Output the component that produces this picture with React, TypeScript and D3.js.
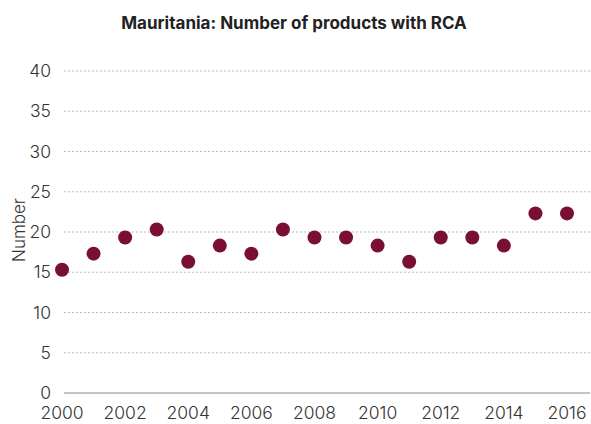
import * as d3 from "d3";
import React, { useEffect, useRef } from "react";

const years = [2000, 2001, 2002, 2003, 2004, 2005, 2006, 2007, 2008, 2009, 2010, 2011, 2012, 2013, 2014, 2015, 2016];
const rcaCounts = [15, 17, 19, 20, 16, 18, 17, 20, 19, 19, 18, 16, 19, 19, 18, 22, 22];
const yTicks = [0, 5, 10, 15, 20, 25, 30, 35, 40];
const xTicks = [2000, 2002, 2004, 2006, 2008, 2010, 2012, 2014, 2016];

const width = 591;
const height = 424;
const font = "Inter, 'Open Sans', sans-serif";

export default function App() {
  const svgRef = useRef<SVGSVGElement>(null);

  useEffect(() => {
    const svg = d3.select(svgRef.current);
    svg.selectAll("*").remove();

    const x = d3.scaleLinear().domain([2000, 2016]).range([62, 567]);
    const y = d3.scaleLinear().domain([0, 40]).range([393, 71]);

    // title
    svg
      .append("text")
      .attr("x", 294)
      .attr("y", 29)
      .attr("text-anchor", "middle")
      .attr("font-family", font)
      .attr("font-weight", 700)
      .attr("font-size", 17)
      .attr("fill", "#222")
      .text("Mauritania: Number of products with RCA");

    // gridlines
    const grid = svg.append("g");
    grid
      .selectAll("line")
      .data(yTicks.filter((t) => t > 0))
      .join("line")
      .attr("x1", 64)
      .attr("x2", 590)
      .attr("y1", (d) => y(d))
      .attr("y2", (d) => y(d))
      .attr("stroke", "#bdbdbd")
      .attr("stroke-width", 1)
      .attr("stroke-dasharray", "2,2");

    // baseline
    svg
      .append("line")
      .attr("x1", 64)
      .attr("x2", 590)
      .attr("y1", y(0))
      .attr("y2", y(0))
      .attr("stroke", "#c4c4c4")
      .attr("stroke-width", 2);

    // y labels
    svg
      .append("g")
      .selectAll("text")
      .data(yTicks)
      .join("text")
      .attr("x", 51)
      .attr("y", (d) => y(d))
      .attr("dy", "0.35em")
      .attr("text-anchor", "end")
      .attr("font-family", font)
      .attr("font-weight", 300)
      .attr("font-size", 17.5)
      .attr("fill", "#333")
      .text((d) => d);

    // x labels
    svg
      .append("g")
      .selectAll("text")
      .data(xTicks)
      .join("text")
      .attr("x", (d) => x(d))
      .attr("y", 419)
      .attr("text-anchor", "middle")
      .attr("font-family", font)
      .attr("font-weight", 300)
      .attr("font-size", 17.5)
      .attr("fill", "#333")
      .text((d) => d);

    // y axis title
    svg
      .append("text")
      .attr("transform", `translate(25, ${y(20) - 2}) rotate(-90)`)
      .attr("text-anchor", "middle")
      .attr("font-family", font)
      .attr("font-weight", 300)
      .attr("font-size", 17)
      .attr("fill", "#333")
      .text("Number");

    // points
    svg
      .append("g")
      .attr("transform", "translate(0, -2.5)")
      .selectAll("circle")
      .data(years.map((yr, i) => ({ yr, v: rcaCounts[i] })))
      .join("circle")
      .attr("cx", (d) => x(d.yr))
      .attr("cy", (d) => y(d.v))
      .attr("r", 7)
      .attr("fill", "#7a0f36");
  }, []);

  return <svg ref={svgRef} width={width} height={height} style={{ position: "absolute", left: 0, top: 0 }} />;
}
